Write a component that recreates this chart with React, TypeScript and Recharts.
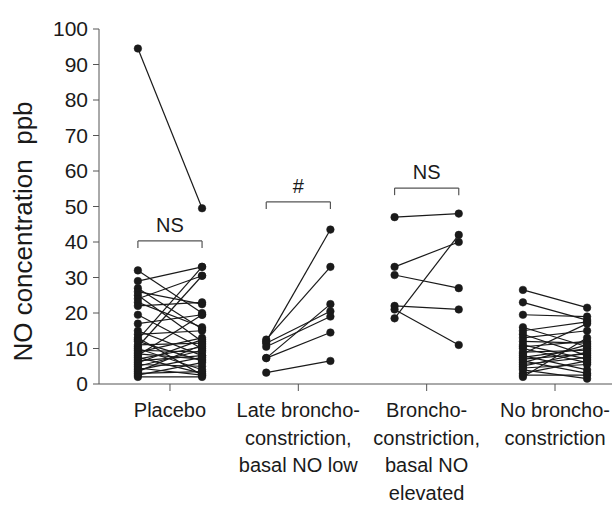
import { LineChart, Line, XAxis, YAxis, ReferenceLine } from 'recharts';

// paired NO measurements, before -> after, per group
const placeboBefore = [94.5, 32, 29, 27, 26, 25, 24, 23, 22, 19.5, 17, 15, 14, 13, 12.5, 12, 11, 10.5, 10, 9.5, 9, 8.5, 8, 7.5, 7, 6.5, 6, 5.5, 5, 4.5, 4, 3.5, 3, 2.5, 2];
const placeboAfter = [49.5, 20, 33, 15.5, 22.5, 12, 30.5, 16, 23, 10, 19.5, 8, 15, 2.5, 33, 6.5, 11.5, 30.5, 4, 9, 13, 7, 19.5, 3, 10.5, 8, 12.5, 5, 9.5, 2.5, 7.5, 11, 3.5, 6, 2];

const lateBefore = [12, 12.5, 7.3, 11.5, 10.5, 7.3, 3.2];
const lateAfter = [43.5, 33, 22.5, 20.5, 19, 14.5, 6.5];

const bronchoBefore = [47, 33, 30.7, 22, 21, 18.5];
const bronchoAfter = [48, 40, 27, 21, 11, 42];

const noBronchoBefore = [26.5, 23, 19.5, 16, 15, 14, 13, 12, 11, 10.5, 10, 9, 8.5, 8, 7.5, 7, 6.5, 6, 5.5, 5, 4.5, 4, 3, 2.5, 2];
const noBronchoAfter = [21.5, 18, 19, 10.5, 17.5, 8, 15, 11.5, 7, 12, 6, 9.5, 17, 4, 10, 8.5, 3, 11, 7.5, 9, 5.5, 1.5, 6.5, 2.5, 13];

const groupLabels = [
  ['Placebo'],
  ['Late broncho-', 'constriction,', 'basal NO low'],
  ['Broncho-', 'constriction,', 'basal NO', 'elevated'],
  ['No broncho-', 'constriction'],
];

const bracketLevels = [40.3, 51.3, 55.2];
const bracketLabels = ['NS', '#', 'NS'];

const yTicks = [0, 10, 20, 30, 40, 50, 60, 70, 80, 90, 100];

const FONT = 'Liberation Sans, Arial, Helvetica, sans-serif';
const AXIS = '#555';
const INK = '#1a1a1a';
const HALF = 0.25; // offset of before/after inside a group

const groups = [
  [placeboBefore, placeboAfter],
  [lateBefore, lateAfter],
  [bronchoBefore, bronchoAfter],
  [noBronchoBefore, noBronchoAfter],
];

const pairs = groups.flatMap(([before, after], g) =>
  before.map((b, i) => [
    { x: g - HALF, y: b },
    { x: g + HALF, y: after[i] },
  ])
);

const CategoryTick = (props: any) => {
  const { x, y, payload } = props;
  const lines = groupLabels[payload.value] || [];
  return (
    <g>
      {lines.map((line, i) => (
        <text
          key={i}
          x={x}
          y={y + 24 + i * 27.5}
          textAnchor="middle"
          fontFamily={FONT}
          fontSize={20}
          fill={INK}
        >
          {line}
        </text>
      ))}
    </g>
  );
};

const YLabel = (props: any) => {
  const { viewBox } = props;
  const cx = viewBox.x + 23;
  const cy = viewBox.y + viewBox.height / 2 + 25;
  return (
    <text
      x={cx}
      y={cy}
      transform={`rotate(-90, ${cx}, ${cy})`}
      textAnchor="middle"
      dominantBaseline="central"
      fontFamily={FONT}
      fontSize={26}
      fill={INK}
    >
      {'NO concentration\u00a0\u00a0ppb'}
    </text>
  );
};

export default function App() {
  return (
    <div style={{ position: 'absolute', left: 0, top: 0, background: '#fff' }}>
      <LineChart width={615} height={506} margin={{ top: 29, right: 3, bottom: 0, left: 0 }}>
        <XAxis
          type="number"
          dataKey="x"
          domain={[-0.553, 3.444]}
          ticks={[0, 1, 2, 3]}
          allowDataOverflow
          height={122}
          tickSize={7}
          stroke={AXIS}
          tickLine={{ stroke: AXIS }}
          tick={<CategoryTick />}
          interval={0}
        />
        <YAxis
          type="number"
          domain={[0, 100]}
          ticks={yTicks}
          width={99}
          tickSize={6}
          tickMargin={5}
          stroke={AXIS}
          tick={{ fontFamily: FONT, fontSize: 21, fill: INK }}
          label={<YLabel />}
        />
        {bracketLevels.map((lvl, g) => (
          <ReferenceLine
            key={`b${g}`}
            segment={[{ x: g - HALF, y: lvl }, { x: g + HALF, y: lvl }]}
            stroke={AXIS}
            strokeWidth={1.2}
            ifOverflow="visible"
            label={{ value: bracketLabels[g], position: 'top', offset: 9, fontFamily: FONT, fontSize: 20, fill: INK }}
          />
        ))}
        {bracketLevels.map((lvl, g) => (
          <ReferenceLine
            key={`l${g}`}
            segment={[{ x: g - HALF, y: lvl }, { x: g - HALF, y: lvl - 2 }]}
            stroke={AXIS}
            strokeWidth={1.2}
            ifOverflow="visible"
          />
        ))}
        {bracketLevels.map((lvl, g) => (
          <ReferenceLine
            key={`r${g}`}
            segment={[{ x: g + HALF, y: lvl }, { x: g + HALF, y: lvl - 2 }]}
            stroke={AXIS}
            strokeWidth={1.2}
            ifOverflow="visible"
          />
        ))}
        {pairs.map((pair, i) => (
          <Line
            key={i}
            data={pair}
            dataKey="y"
            type="linear"
            stroke={INK}
            strokeWidth={1.2}
            dot={{ r: 3.8, fill: INK, stroke: INK, strokeWidth: 0.5 }}
            activeDot={false}
            isAnimationActive={false}
            legendType="none"
          />
        ))}
      </LineChart>
    </div>
  );
}
